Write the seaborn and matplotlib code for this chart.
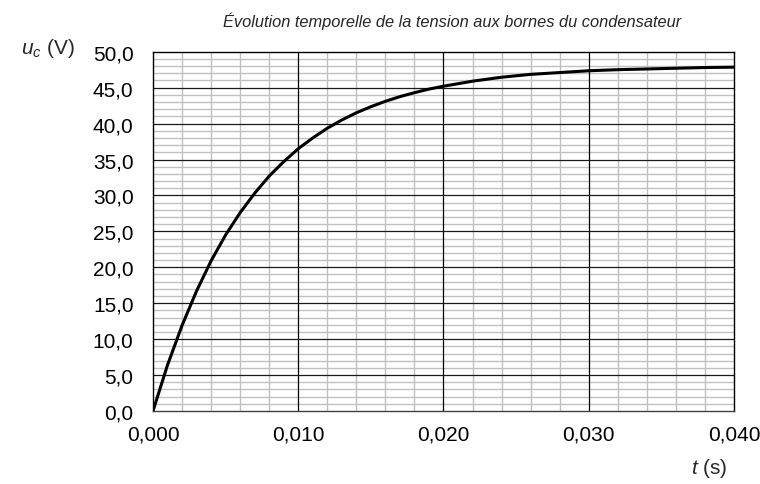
import numpy as np
import pandas as pd
import seaborn as sns
import matplotlib.pyplot as plt
from matplotlib.ticker import MultipleLocator, FuncFormatter

# Values
t_values = [0.000, 0.001, 0.002, 0.003, 0.004, 0.005, 0.006, 0.007, 0.008, 0.009,
            0.010, 0.011, 0.012, 0.013, 0.014, 0.015, 0.016, 0.017, 0.018, 0.019,
            0.020, 0.022, 0.024, 0.026, 0.028, 0.030, 0.032, 0.034, 0.036, 0.038, 0.040]
uc_values = [0.0, 6.4, 11.9, 16.7, 20.9, 24.5, 27.6, 30.3, 32.7, 34.7,
             36.5, 38.0, 39.35, 40.5, 41.5, 42.35, 43.1, 43.75, 44.3, 44.8,
             45.2, 45.9, 46.45, 46.85, 47.1, 47.35, 47.5, 47.6, 47.7, 47.8, 47.85]

x_ticks = [0.000, 0.010, 0.020, 0.030, 0.040]
y_ticks = [0, 5, 10, 15, 20, 25, 30, 35, 40, 45, 50]

title = "Évolution temporelle de la tension aux bornes du condensateur"

df = pd.DataFrame({"t": t_values, "uc": uc_values})

sns.set_style("white")
plt.rcParams['font.family'] = ['Liberation Sans', 'DejaVu Sans']
plt.rcParams['mathtext.fontset'] = 'custom'
plt.rcParams['mathtext.it'] = 'Liberation Sans:italic'
plt.rcParams['mathtext.rm'] = 'Liberation Sans'

fig = plt.figure(figsize=(7.6, 4.85), dpi=100)
ax = fig.add_axes([0.2013, 0.1505, 0.7645, 0.7408])

# minor grid in grey, major lines drawn on top in black
ax.xaxis.set_minor_locator(MultipleLocator(0.002))
ax.yaxis.set_minor_locator(MultipleLocator(1))
ax.grid(which="minor", color="#c0c0c0", linewidth=1.0, zorder=0)
ax.grid(which="major", visible=False)
for xv in x_ticks[1:-1]:
    ax.axvline(xv, color="black", linewidth=0.9, zorder=1)
for yv in y_ticks[1:-1]:
    ax.axhline(yv, color="#1a1a1a", linewidth=0.9, zorder=1)

sns.lineplot(data=df, x="t", y="uc", ax=ax, color="black", linewidth=2.2, zorder=3)

ax.set_xlim(0, 0.040)
ax.set_ylim(0, 50)
ax.set_xticks(x_ticks)
ax.set_yticks(y_ticks)
ax.xaxis.set_major_formatter(FuncFormatter(lambda v, p: f"{v:.3f}".replace(".", ",")))
ax.yaxis.set_major_formatter(FuncFormatter(lambda v, p: f"{v:.1f}".replace(".", ",")))
ax.tick_params(which="both", length=0, labelsize=15, colors="black")
ax.tick_params(axis="x", pad=10)
ax.tick_params(axis="y", pad=14)
ax.set_xlabel("")
ax.set_ylabel("")

for side in ["left", "right", "top", "bottom"]:
    ax.spines[side].set_color("black")
    ax.spines[side].set_linewidth(1.0)
    ax.spines[side].set_visible(True)
ax.spines["bottom"].set_color("#404040")

fig.text(0.595, 0.957, title, ha="center", va="center", fontsize=11.8, style="italic")
fig.text(0.027, 0.9, r"$u_c$ (V)", ha="left", va="center", fontsize=15)
fig.text(0.957, 0.035, r"$t$ (s)", ha="right", va="center", fontsize=15)

fig.savefig("out.png", dpi=100)
